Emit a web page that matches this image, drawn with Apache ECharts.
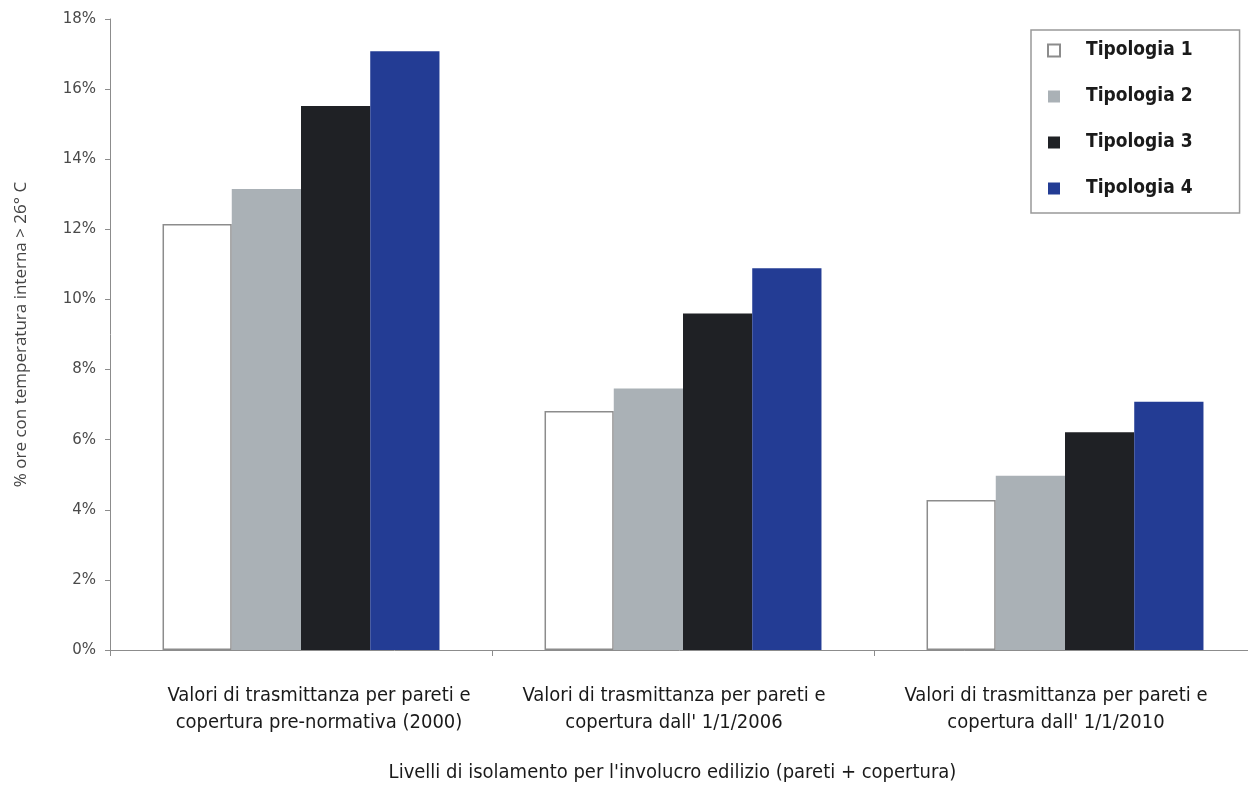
<!DOCTYPE html>
<html>
<head>
<meta charset="utf-8">
<script src="https://cdn.jsdelivr.net/npm/echarts@6/dist/echarts.min.js"></script>
<style>
  html, body { margin: 0; padding: 0; background: #fff; }
  #chart { width: 1248px; height: 785px; }
</style>
</head>
<body>
<div id="chart"></div>
<script>
// Insulation levels (category axis)
const categories = [
  'Valori di trasmittanza per pareti e\ncopertura pre-normativa (2000)',
  "Valori di trasmittanza per pareti e\ncopertura dall' 1/1/2006",
  "Valori di trasmittanza per pareti e\ncopertura dall' 1/1/2010"
];

// Share of hours with indoor temperature > 26 °C, in percent
const tipologia1 = [12.15, 6.82, 4.28];
const tipologia2 = [13.15, 7.46, 4.97];
const tipologia3 = [15.52, 9.6, 6.21];
const tipologia4 = [17.08, 10.89, 7.08];

const seriesNames = ['Tipologia 1', 'Tipologia 2', 'Tipologia 3', 'Tipologia 4'];
const yTicks = [0, 2, 4, 6, 8, 10, 12, 14, 16, 18];

const condensed = "'DejaVu Sans Condensed', 'Liberation Sans Narrow', sans-serif";

const styles = [
  { color: '#ffffff', borderColor: '#8c8c8c', borderWidth: 1.5 },
  { color: '#aab1b6' },
  { color: '#1f2125' },
  { color: '#233c94' }
];
const values = [tipologia1, tipologia2, tipologia3, tipologia4];

// per-category label nudges (rich text padding)
const labelRich = {
  c0: { padding: [0, 0, 0, 36] },
  c1: { padding: [0, 18, 0, 0] },
  c2: { padding: [0, 18, 0, 0] }
};

const chart = echarts.init(document.getElementById('chart'), null, { renderer: 'canvas' });

chart.setOption({
  animation: false,
  backgroundColor: '#ffffff',
  grid: {
    left: 110, top: 19, width: 1146, bottom: 135,
    containLabel: false,
    outerBoundsMode: 'none'
  },
  legend: {
    orient: 'vertical',
    left: 1031,
    top: 30,
    padding: [11, 47, 15, 16],
    borderColor: '#999999',
    borderWidth: 1.5,
    backgroundColor: '#ffffff',
    itemWidth: 12,
    itemHeight: 12,
    itemGap: 27,
    icon: 'rect',
    data: seriesNames,
    textStyle: {
      fontFamily: condensed,
      fontWeight: 'bold',
      fontSize: 19,
      color: '#1a1a1a',
      padding: [0, 0, 0, 21]
    }
  },
  xAxis: {
    type: 'category',
    data: categories,
    name: "Livelli di isolamento per l'involucro edilizio (pareti + copertura)",
    nameLocation: 'middle',
    nameGap: 113,
    nameTextStyle: {
      fontFamily: condensed,
      fontSize: 20,
      color: '#1a1a1a',
      padding: [0, 21, 0, 0]
    },
    axisLine: { lineStyle: { color: '#8c8c8c', width: 1 } },
    axisTick: { show: true, length: 6, lineStyle: { color: '#8c8c8c' } },
    axisLabel: {
      margin: 32,
      fontFamily: condensed,
      fontSize: 20,
      lineHeight: 27,
      color: '#1a1a1a',
      interval: 0,
      rich: labelRich,
      formatter: (value, index) =>
        value.split('\n').map(line => `{c${index}|${line}}`).join('\n')
    }
  },
  yAxis: {
    type: 'value',
    min: 0,
    max: 18,
    interval: 2,
    name: '% ore con temperatura interna > 26° C',
    nameLocation: 'middle',
    nameGap: 80,
    nameTextStyle: {
      fontFamily: "'Open Sans', sans-serif",
      fontSize: 17,
      color: '#444444'
    },
    axisLine: { show: true, lineStyle: { color: '#8c8c8c', width: 1 } },
    axisTick: { show: true, length: 5, lineStyle: { color: '#8c8c8c' } },
    splitLine: { show: false },
    axisLabel: {
      margin: 14,
      fontFamily: "'DejaVu Sans', sans-serif",
      fontSize: 15,
      color: '#4a4a4a',
      customValues: yTicks,
      formatter: v => v + '%'
    }
  },
  series: seriesNames.map((name, i) => ({
    name,
    type: 'bar',
    data: values[i],
    barGap: '0%',
    barCategoryGap: '27.5%',
    itemStyle: styles[i]
  }))
});
</script>
</body>
</html>
